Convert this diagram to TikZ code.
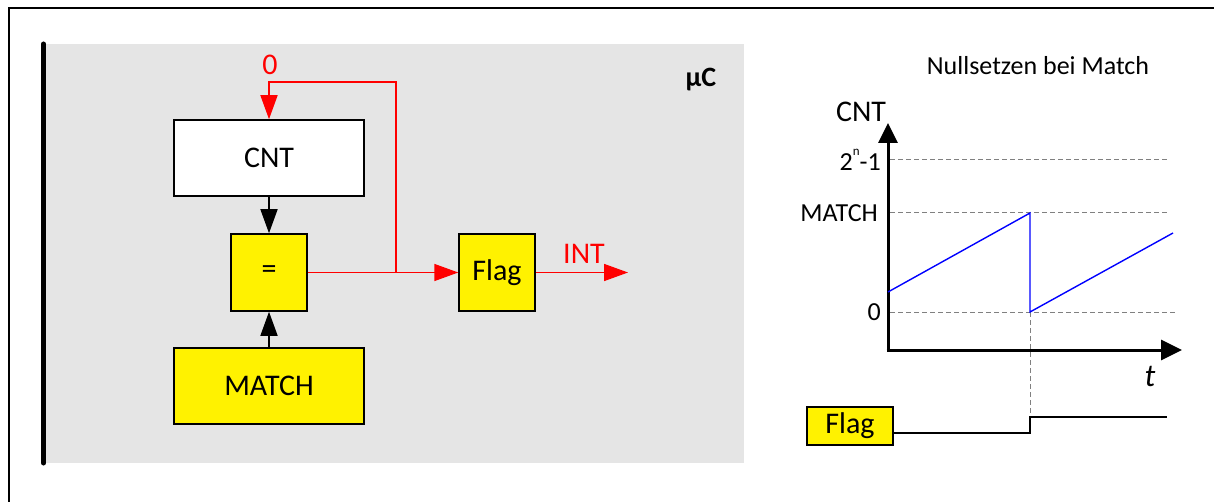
\documentclass[tikz,border=0pt]{standalone}
\usepackage{fontspec}
\setmainfont{Carlito}
\usetikzlibrary{arrows.meta}
\definecolor{bggray}{RGB}{229,229,229}
\definecolor{dashgray}{RGB}{128,128,128}
\tikzset{
  blk/.style={draw=black, line width=1.5pt, inner sep=0pt, font=\fontsize{30}{36}\selectfont},
  yel/.style={blk, fill=yellow},
  bigtip/.style={-{Triangle[length=24pt,width=17pt]}},
  redline/.style={draw=red, line width=1.5pt},
  lbl/.style={inner sep=0pt, font=\fontsize{26}{31}\selectfont},
  guide/.style={draw=dashgray, line width=1pt, dash pattern=on 5pt off 3pt},
}
\begin{document}
\begin{tikzpicture}[x=1pt,y=-1pt]
\useasboundingbox (0,0) rectangle (1214,502);
% frame
\draw[line width=1.4pt] (9,502) -- (9,8) -- (1214,8);
% left block
\fill[bggray] (46,44) rectangle (744,463);
\draw[line width=5pt, line cap=round] (43.5,44) -- (43.5,463);
\node[inner sep=0pt, font=\fontsize{28}{33}\selectfont\bfseries] (uc) at (701,80) {µC};

\node[blk, fill=white, minimum width=190pt, minimum height=76pt] (cnt) at (269,158) {CNT};
\node[yel, minimum width=76pt, minimum height=77pt] (eq) at (269,272.5) {=};
\node[yel, minimum width=190pt, minimum height=76pt] (match) at (269,386) {MATCH};
\node[yel, minimum width=76pt, minimum height=77pt] (flag) at (497,272.5) {Flag};

\draw[line width=1.5pt, bigtip] (cnt.south) -- (eq.north);
\draw[line width=1.5pt, bigtip] (match.north) -- (eq.south);

\coordinate (j) at (396,272.5);
\coordinate (t1) at (396,82);
\coordinate (t2) at (269,82);
\coordinate (intend) at (628,272.5);
\draw[redline, bigtip, red] (eq.east) -- (flag.west);
\draw[redline, bigtip, red] (j) -- (t1) -- (t2) -- (cnt.north);
\draw[redline, bigtip, red] (flag.east) -- (intend);
\node[inner sep=0pt, text=red, font=\fontsize{30}{36}\selectfont] (zero) at (270,65) {0};
\node[inner sep=0pt, text=red, font=\fontsize{30}{36}\selectfont] (intl) at (584,254) {INT};

% right diagram
\node[lbl] (title) at (1038,66) {Nullsetzen bei Match};
\coordinate (o) at (888,350);
\coordinate (ytip) at (888,123);
\coordinate (xtip) at (1182,350);
\coordinate (g1a) at (890,160); \coordinate (g1b) at (1168,160);
\coordinate (g2a) at (890,213); \coordinate (g2b) at (1168,213);
\coordinate (g3a) at (890,312); \coordinate (g3b) at (1175,312);
\draw[guide] (g1a) -- (g1b);
\draw[guide] (g2a) -- (g2b);
\draw[guide] (g3a) -- (g3b);
\coordinate (v1) at (1030,312); \coordinate (v2) at (1030,417);
\draw[guide] (v1) -- (v2);

\draw[line width=3pt, -{Triangle[length=20pt,width=19pt]}] (888,351.5) -- (ytip);
\draw[line width=3pt, -{Triangle[length=21pt,width=20pt]}] (886.5,350) -- (xtip);

\node[inner sep=0pt, font=\fontsize{30}{36}\selectfont] (cntl) at (861,112) {CNT};
\node[lbl, anchor=east] (max) at (881,160) {2\raisebox{0.55em}{\fontsize{13}{15}\selectfont n}-1};
\node[lbl, anchor=east] (matchl) at (878,213) {MATCH};
\node[lbl, anchor=east] (zl) at (881,312) {0};
\node[inner sep=0pt, font=\fontsize{32}{38}\selectfont\itshape] (tl) at (1150,376) {t};

\coordinate (b0) at (888,292);
\coordinate (b1) at (1030,213);
\coordinate (b2) at (1030,312);
\coordinate (b3) at (1173,233);
\draw[blue, line width=1.4pt] (b0) -- (b1) -- (b2) -- (b3);

\node[yel, minimum width=86pt, minimum height=38pt] (flag2) at (850,426) {Flag};
\coordinate (s1) at (1030,433);
\coordinate (s2) at (1030,417);
\coordinate (s3) at (1167,417);
\draw[line width=1.6pt] (flag2.east |- s1) -- (s1) -- (s2) -- (s3);
\end{tikzpicture}
\end{document}
